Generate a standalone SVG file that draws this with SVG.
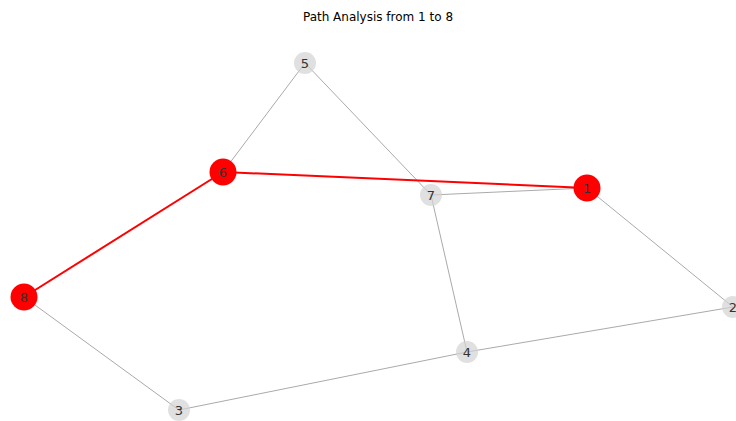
<svg xmlns="http://www.w3.org/2000/svg" width="736" height="421" viewBox="0 0 736 421">
  <style>
    .title { font-family: "DejaVu Sans", sans-serif; font-size: 12px; fill: #000; }
    .edge { stroke: #aaaaaa; stroke-width: 1; fill: none; }
    .path { stroke: #ff0000; stroke-width: 2; fill: none; }
    .n circle { fill: #d3d3d3; fill-opacity: 0.7; }
    .n.on circle { fill: #ff0000; fill-opacity: 1; }
    .n text { font-family: "DejaVu Sans", sans-serif; font-size: 13px; fill: #333333; text-anchor: middle; dominant-baseline: central; }
  </style>
  <rect width="736" height="421" fill="#ffffff"/>
  <text class="title" x="378" y="21" text-anchor="middle">Path Analysis from 1 to 8</text>
  <g id="edges">
    <line class="edge" x1="305" y1="63" x2="223" y2="172"/>
    <line class="edge" x1="305" y1="63" x2="431" y2="195"/>
    <line class="edge" x1="431" y1="195" x2="587" y2="188"/>
    <line class="edge" x1="587" y1="188" x2="733" y2="307"/>
    <line class="edge" x1="431" y1="195" x2="467" y2="352"/>
    <line class="edge" x1="467" y1="352" x2="733" y2="307"/>
    <line class="edge" x1="467" y1="352" x2="179" y2="410"/>
    <line class="edge" x1="179" y1="410" x2="24" y2="297"/>
    <line class="path" x1="223" y1="172" x2="587" y2="188"/>
    <line class="path" x1="24" y1="297" x2="223" y2="172"/>
  </g>
  <g id="node-5" class="n"><circle cx="305" cy="63" r="11"/><text x="305" y="63">5</text></g>
  <g id="node-7" class="n"><circle cx="431" cy="195" r="11"/><text x="431" y="195">7</text></g>
  <g id="node-2" class="n"><circle cx="733" cy="307" r="11"/><text x="733" y="307">2</text></g>
  <g id="node-4" class="n"><circle cx="467" cy="352" r="11"/><text x="467" y="352">4</text></g>
  <g id="node-3" class="n"><circle cx="179" cy="410" r="11"/><text x="179" y="410">3</text></g>
  <g id="node-6" class="n on"><circle cx="223" cy="172" r="13.5"/><text x="223" y="172">6</text></g>
  <g id="node-1" class="n on"><circle cx="587" cy="188" r="13.5"/><text x="587" y="188">1</text></g>
  <g id="node-8" class="n on"><circle cx="24" cy="297" r="13.5"/><text x="24" y="297">8</text></g>
</svg>
